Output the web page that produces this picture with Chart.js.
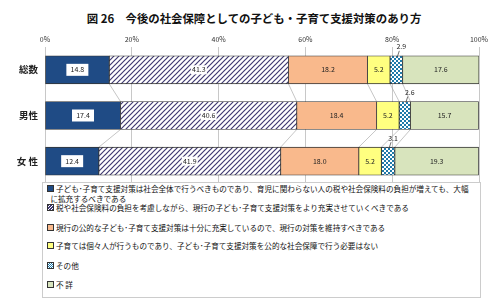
<!DOCTYPE html>
<html>
<head>
<meta charset="utf-8">
<script src="https://cdn.jsdelivr.net/npm/chart.js@4.4.0/dist/chart.umd.min.js"></script>
<style>
  body { margin: 0; background: #fff; font-family: "Noto Sans CJK JP", sans-serif; }
  #wrap { position: relative; width: 492px; height: 306px; }
  #chart { position: absolute; left: 0; top: 0; }
  #title { position: absolute; left: 0; width: 508px; top: 10px; text-align: center; font-size: 11.4px; font-weight: bold; color: #111; }
  #legend { position: absolute; left: 42px; top: 182px; width: 437px; height: 114px; border: 1px solid #ccc; background: #fff; }
  .item { position: absolute; left: 4px; font-size: 7.6px; line-height: 10px; color: #111; white-space: pre; }
  .mark { display: inline-block; width: 5px; height: 5px; border: 1px solid #333; margin-right: 2px; vertical-align: 0px; }
</style>
</head>
<body>
<div id="wrap">
  <div id="title">図 26　今後の社会保障としての子ども・子育て支援対策のあり方</div>
  <canvas id="chart" width="492" height="306"></canvas>
  <div id="legend"></div>
</div>
<script>
const categories = ["総数", "男性", "女 性"];
const seriesNames = [
  "子ども･子育て支援対策は社会全体で行うべきものであり、育児に関わらない人の税や社会保険料の負担が増えても、大幅\nに拡充するべきである",
  "税や社会保険料の負担を考慮しながら、現行の子ども･子育て支援対策をより充実させていくべきである",
  "現行の公的な子ども･子育て支援対策は十分に充実しているので、現行の対策を維持すべきである",
  "子育ては個々人が行うものであり、子ども･子育て支援対策を公的な社会保障で行う必要はない",
  "その他",
  "不 詳"
];
const expand = [14.8, 17.4, 12.4];
const enrich = [41.3, 40.6, 41.9];
const maintain = [18.2, 18.4, 18.0];
const notNeeded = [5.2, 5.2, 5.2];
const other = [2.9, 2.6, 3.1];
const unknown = [17.6, 15.7, 19.3];
const xTicks = [0, 20, 40, 60, 80, 100];

function hatch() {
  const c = document.createElement("canvas");
  c.width = 5; c.height = 5;
  const g = c.getContext("2d");
  g.fillStyle = "#fff"; g.fillRect(0, 0, 5, 5);
  g.strokeStyle = "#403a72"; g.lineWidth = 1.2;
  g.beginPath();
  g.moveTo(-1, 6); g.lineTo(6, -1);
  g.moveTo(-1, 1); g.lineTo(1, -1);
  g.moveTo(4, 6); g.lineTo(6, 4);
  g.stroke();
  return c;
}
function checker() {
  const c = document.createElement("canvas");
  c.width = 4; c.height = 4;
  const g = c.getContext("2d");
  g.fillStyle = "#fff"; g.fillRect(0, 0, 4, 4);
  g.fillStyle = "#1f7aaa";
  g.fillRect(0, 0, 2, 2); g.fillRect(2, 2, 2, 2);
  return c;
}

const ctx = document.getElementById("chart").getContext("2d");
const fills = [
  "#1f4b85",
  ctx.createPattern(hatch(), "repeat"),
  "#f9b98c",
  "#ffff80",
  ctx.createPattern(checker(), "repeat"),
  "#d8e4bd"
];
const cssFills = [
  "#1f4b85",
  "repeating-linear-gradient(135deg,#403a72 0 1px,#fff 1px 2px)",
  "#f9b98c",
  "#ffff80",
  "repeating-conic-gradient(#1f7aaa 0 25%,#fff 0 50%) 0 0/2px 2px",
  "#d8e4bd"
];
const values = [expand, enrich, maintain, notNeeded, other, unknown];

const labelPlugin = {
  id: "labels",
  beforeDatasetsDraw(chart) {
    const g = chart.ctx;
    const x = chart.scales.x;
    const bars = chart.getDatasetMeta(0).data;
    g.save();
    g.strokeStyle = "#a0a0a0";
    g.lineWidth = 0.6;
    for (let i = 0; i < categories.length - 1; i++) {
      let a = 0, b = 0;
      for (let k = 0; k < values.length - 1; k++) {
        a += values[k][i]; b += values[k][i + 1];
        g.beginPath();
        g.moveTo(x.getPixelForValue(a), bars[i].y + 14);
        g.lineTo(x.getPixelForValue(b), bars[i + 1].y - 14);
        g.stroke();
      }
    }
    g.restore();
  },
  afterDatasetsDraw(chart) {
    const g = chart.ctx;
    g.save();
    g.font = "7px 'Noto Sans CJK JP', sans-serif";
    g.textAlign = "center";
    g.textBaseline = "middle";
    chart.data.datasets.forEach((ds, di) => {
      chart.getDatasetMeta(di).data.forEach((bar, i) => {
        const cx = (bar.x + bar.base) / 2;
        const txt = ds.data[i].toFixed(1);
        if (di === 4) {
          const top = bar.y - 14;
          g.strokeStyle = "#333"; g.lineWidth = 0.7;
          g.beginPath(); g.moveTo(cx + 3, top - 5); g.lineTo(cx + 1, top + 1); g.stroke();
          g.fillStyle = "#222";
          g.fillText(txt, cx + 5, top - 9);
          return;
        }
        if (di === 0) {
          g.fillStyle = "#fff"; g.fillRect(cx - 11, bar.y - 6, 22, 12);
        } else if (di === 1) {
          g.fillStyle = "#fff"; g.fillRect(cx - 8, bar.y - 4.5, 16, 9);
        }
        g.fillStyle = "#222";
        g.fillText(txt, cx, bar.y);
      });
    });
    g.restore();
  }
};

new Chart(ctx, {
  type: "bar",
  data: {
    labels: categories,
    datasets: values.map((v, k) => ({
      label: seriesNames[k],
      data: v,
      backgroundColor: fills[k],
      borderColor: "#333",
      borderWidth: 0.8,
      borderSkipped: false,
      barThickness: 28
    }))
  },
  options: {
    indexAxis: "y",
    responsive: false,
    animation: false,
    layout: { padding: { left: 0, right: 13, top: 32, bottom: 122 } },
    plugins: { legend: { display: false }, tooltip: { enabled: false } },
    scales: {
      x: {
        position: "top",
        stacked: true,
        min: 0, max: 100,
        afterBuildTicks: s => { s.ticks = xTicks.map(v => ({ value: v })); },
        afterFit: s => { s.height = 15; },
        ticks: { padding: 3, font: { size: 7, family: "'Noto Sans CJK JP'" }, color: "#333", callback: v => v + "%" },
        grid: { color: "#c8c8c8", drawTicks: false },
        border: { display: false }
      },
      y: {
        stacked: true,
        afterFit: s => { s.width = 45; },
        ticks: { padding: 7, font: { size: 9.5, family: "'Noto Sans CJK JP'", weight: "bold" }, color: "#222" },
        grid: { display: false, drawTicks: false },
        border: { display: false }
      }
    }
  },
  plugins: [labelPlugin]
});

const legendTops = [1, 20, 40, 58, 78, 97];
const legend = document.getElementById("legend");
seriesNames.forEach((name, k) => {
  const d = document.createElement("div");
  d.className = "item";
  d.style.top = legendTops[k] + "px";
  const m = document.createElement("span");
  m.className = "mark";
  m.style.background = cssFills[k];
  d.appendChild(m);
  d.appendChild(document.createTextNode(name.replace("\n", "\n  ")));
  legend.appendChild(d);
});
</script>
</body>
</html>
